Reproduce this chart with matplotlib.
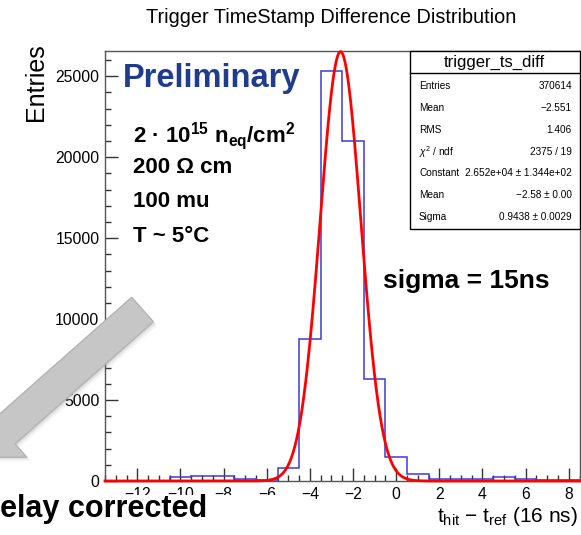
import numpy as np
import matplotlib
matplotlib.use("Agg")
import matplotlib.pyplot as plt
from matplotlib.patches import Polygon, Rectangle
from matplotlib.ticker import MultipleLocator

plt.rcParams["font.family"] = ["Liberation Sans", "DejaVu Sans"]
plt.rcParams["mathtext.fontset"] = "custom"
plt.rcParams["mathtext.rm"] = "Liberation Sans"
plt.rcParams["mathtext.it"] = "Liberation Sans:italic"
plt.rcParams["mathtext.bf"] = "Liberation Sans:bold"

# ----------------------------------------------------------------------
# Data
# ----------------------------------------------------------------------
bin_edges = np.arange(-13.5, 9.0, 1.0)            # 22 bins of width 1
counts = [0, 20, 20, 250, 320, 320, 100, 50, 800, 8760, 25310,
          21030, 6280, 1460, 430, 150, 100, 100, 265, 120, 50, 50]

# Gaussian fit parameters (from the stats box)
fit_const, fit_mean, fit_sigma = 2.652e4, -2.58, 0.9438

stat_labels = ["Entries", "Mean", "RMS", r"$\chi^{2}$ / ndf",
               "Constant", "Mean", "Sigma"]
stat_values = ["370614", "\u22122.551", "1.406", "2375 / 19",
               "2.652e+04 \u00b1 1.344e+02", "\u22122.58 \u00b1 0.00",
               "0.9438 \u00b1 0.0029"]

# ----------------------------------------------------------------------
W, H = 581, 535
fig = plt.figure(figsize=(W / 100, H / 100), dpi=100)


def px(x, y):
    """pixel position (from top-left) -> figure fraction"""
    return x / W, 1 - y / H


ax = fig.add_axes([105 / W, (H - 481) / H, (579.5 - 105) / W, (481 - 51) / H])

ax.stairs(counts, bin_edges, color="#3a3ad6", lw=1.1, baseline=0, zorder=2)
xf = np.linspace(bin_edges[0], bin_edges[-1], 800)
yf = fit_const * np.exp(-0.5 * ((xf - fit_mean) / fit_sigma) ** 2)
ax.plot(xf, yf, color="#ff0000", lw=2, zorder=3, clip_on=False)

ax.set_xlim(bin_edges[0], bin_edges[-1])
ax.set_ylim(0, 26560)
ax.xaxis.set_major_locator(MultipleLocator(2))
ax.xaxis.set_minor_locator(MultipleLocator(0.5))
ax.yaxis.set_major_locator(MultipleLocator(5000))
ax.yaxis.set_minor_locator(MultipleLocator(1000))
ax.tick_params(which="both", direction="in", colors="#333333",
               labelcolor="black", labelsize=11.3, top=False, right=False)
ax.tick_params(which="major", length=9.5, width=1)
ax.tick_params(which="minor", length=4.5, width=1)
ax.tick_params(axis="x", pad=4)
ax.tick_params(axis="y", pad=4)
for s in ax.spines.values():
    s.set_color("#555555")
    s.set_linewidth(1)

# title and axis labels
fig.text(*px(331.5, 22.7), "Trigger TimeStamp Difference Distribution",
         fontsize=14.3, ha="center", va="baseline")
fig.text(*px(43, 43), "Entries", fontsize=18, rotation=90,
         rotation_mode="anchor", ha="right", va="baseline")
fig.text(*px(578, 522), r"t$_{\mathrm{hit}}$ $-$ t$_{\mathrm{ref}}$ (16 ns)",
         fontsize=15, ha="right", va="baseline")

# stats box
box_l, box_t, box_r, box_b, sep = 410, 51, 579.5, 229, 73
x0, y0 = px(box_l, box_b)
x1, y1 = px(box_r, box_t)
fig.add_artist(Rectangle((x0, y0), x1 - x0, y1 - y0, transform=fig.transFigure,
                         facecolor="white", edgecolor="black", lw=1, zorder=4))
fig.add_artist(plt.Line2D([x0, x1], [px(0, sep)[1]] * 2,
                          transform=fig.transFigure, color="black", lw=1, zorder=5))
fig.text(*px((box_l + box_r) / 2, 62), "trigger_ts_diff", fontsize=12,
         ha="center", va="center", zorder=6)
for i, (lab, val) in enumerate(zip(stat_labels, stat_values)):
    yrow = 86.5 + i * 21.7
    fig.text(*px(419, yrow), lab, fontsize=7.2, ha="left", va="center", zorder=6)
    fig.text(*px(572, yrow), val, fontsize=7.2, ha="right", va="center", zorder=6)

# slide overlay: arrow
S = np.array([142.5, 309.5])
d = np.array([-0.749, 0.662])
n = np.array([0.663, 0.749])
body_len, half_w, head_w, head_len = 184.6, 16.3, 34, 38.5
B = S + body_len * d
pts = [S + half_w * n, B + half_w * n, B + head_w * n, B + head_len * d,
       B - head_w * n, B - half_w * n, S - half_w * n]
for off, a in [(4, 0.08), (2.5, 0.12), (1.2, 0.18)]:
    shadow = [px(p[0] + off, p[1] + off) for p in pts]
    fig.add_artist(Polygon(shadow, closed=True, transform=fig.transFigure,
                           facecolor="#888888", edgecolor="none", alpha=a, zorder=7))
fig.add_artist(Polygon([px(*p) for p in pts], closed=True, transform=fig.transFigure,
                       facecolor="#c6c6c6", edgecolor="#b4b4b4", lw=1, zorder=8))

# slide overlay: white text box at the bottom left
fig.add_artist(Rectangle(px(0, 535), 290 / W, 40 / H, transform=fig.transFigure,
                         facecolor="white", edgecolor="none", zorder=9))
fig.text(*px(0, 517), "elay corrected", fontsize=22, fontweight="bold",
         ha="left", va="baseline", zorder=10)

# slide overlay: text
fig.text(*px(123, 86.7), "Preliminary", fontsize=23.5, fontweight="bold",
         color="#1f3d8c", ha="left", va="baseline", zorder=10)
spec_lines = ["2 \u00b7 10" + r"$^{\mathbf{15}}$ n$_{\mathbf{eq}}$/cm$^{\mathbf{2}}$",
              "200 \u03a9 cm", "100 mu", "T ~ 5\u00b0C"]
for txt, yb in zip(spec_lines, [141.7, 173, 206.7, 241.7]):
    fig.text(*px(133, yb), txt, fontsize=16, fontweight="bold",
             ha="left", va="baseline", zorder=10)
fig.text(*px(383, 288), "sigma = 15ns", fontsize=19, fontweight="bold",
         ha="left", va="baseline", zorder=10)

fig.savefig("out.png", dpi=100)
